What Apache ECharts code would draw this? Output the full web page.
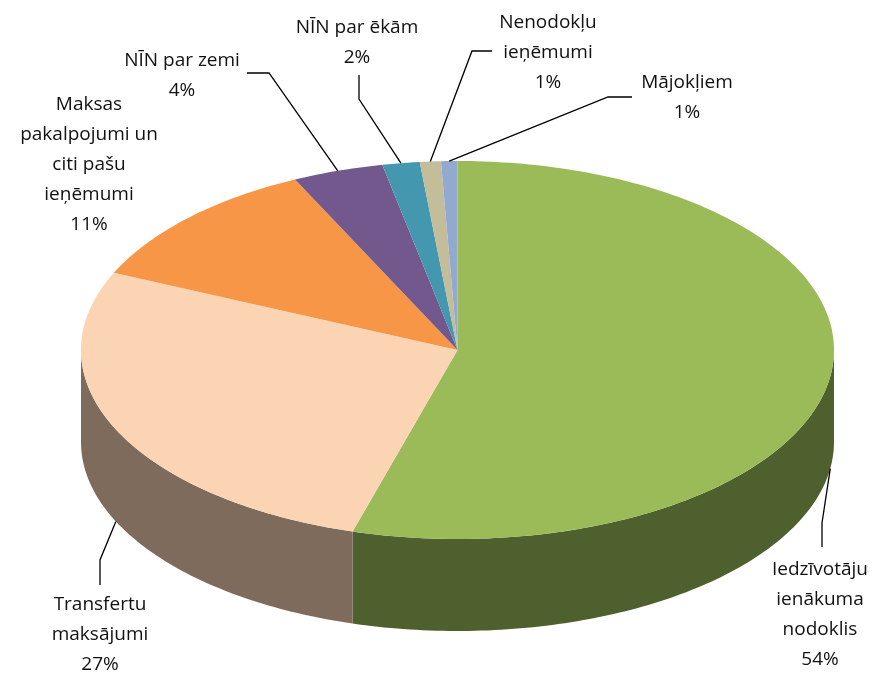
<!DOCTYPE html>
<html>
<head>
<meta charset="utf-8">
<script src="https://cdn.jsdelivr.net/npm/echarts@6/dist/echarts.min.js"></script>
<style>
  html, body { margin: 0; padding: 0; background: #fff; }
  #main { width: 879px; height: 675px; }
</style>
</head>
<body>
<div id="main"></div>
<script>
// slices, clockwise from 12 o'clock
const names = [
  'Iedzīvotāju\nienākuma\nnodoklis',
  'Transfertu\nmaksājumi',
  'Maksas\npakalpojumi un\nciti pašu\nieņēmumi',
  'NĪN par zemi',
  'NĪN par ēkām',
  'Nenodokļu\nieņēmumi',
  'Mājokļiem'
]
const values = [54.49, 27.2, 11.2, 3.9, 1.6, 0.9, 0.7]

const topColors = ['#9BBB59', '#FBD4B4', '#F79646', '#72588C', '#4398AF', '#C4BD9A', '#94A9D0']
const sideColors = ['#4F602F', '#7F6B5C', '#B86E30', '#55426A', '#327284', '#938D73', '#6F7F9C']

// label layout: text centre x, first line centre y, leader elbow points
const labelX = [820, 100, 89, 182, 357, 548, 687]
const labelY = [570, 605, 105, 61, 28, 23, 83]
const elbows = [
  [[822, 523], [822, 547]],
  [[100, 560], [100, 585]],
  null,
  [[269, 73], [247, 73]],
  [[359, 99], [359, 75]],
  [[472, 51], [492, 51]],
  [[608, 97], [632, 97]]
]

const total = values.reduce((a, b) => a + b, 0)
const cx = 457.5, cy = 350, rx = 376.5, ry = 189, depth = 92

const pt = (deg, dy) => {
  const r = deg * Math.PI / 180
  return [cx + rx * Math.sin(r), cy - ry * Math.cos(r) + (dy || 0)]
}

const arc = (a, b, dy) => {
  const pts = []
  const n = Math.max(2, Math.ceil(b - a))
  for (let i = 0; i <= n; i++) pts.push(pt(a + (b - a) * i / n, dy))
  return pts
}

const chart = echarts.init(document.getElementById('main'))

chart.setOption({
  animation: false,
  series: [{
    type: 'custom',
    coordinateSystem: 'none',
    data: values,
    renderItem: (params, api) => {
      const i = params.dataIndex
      let start = 0
      for (let k = 0; k < i; k++) start += values[k] / total * 360
      const end = start + api.value(0) / total * 360
      const children = []

      // visible front wall
      const s = Math.max(start, 90), e = Math.min(end, 270)
      if (e > s) {
        children.push({
          type: 'polygon', z2: 1,
          shape: { points: arc(s, e, 0).concat(arc(s, e, depth).reverse()) },
          style: { fill: sideColors[i] }
        })
      }

      // top face
      children.push({
        type: 'polygon', z2: 2,
        shape: { points: [[cx, cy]].concat(arc(start, end, 0)) },
        style: { fill: topColors[i] }
      })

      const mid = (start + end) / 2
      const front = mid > 90 && mid < 270
      const anchor = pt(mid, front ? depth : 0)
      if (elbows[i]) {
        children.push({
          type: 'polyline', z2: 3,
          shape: { points: [anchor].concat(elbows[i]) },
          style: { stroke: '#000', lineWidth: 1.3, fill: null }
        })
      }

      const pct = Math.round(api.value(0) / total * 100) + '%'
      children.push({
        type: 'text', z2: 4,
        x: labelX[i], y: labelY[i] - 15,
        style: {
          text: names[i] + '\n' + pct,
          align: 'center', verticalAlign: 'top',
          fontSize: 19, fontFamily: 'Open Sans', lineHeight: 30,
          fill: '#111'
        }
      })
      return { type: 'group', children }
    }
  }]
})
</script>
</body>
</html>
